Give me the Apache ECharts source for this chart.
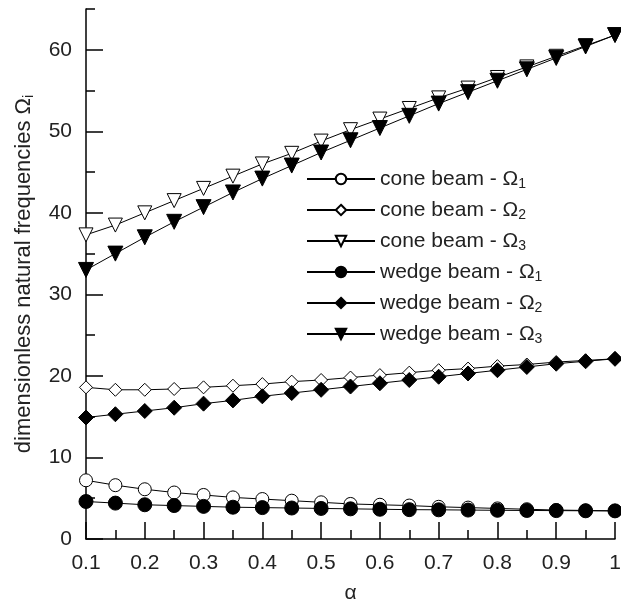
<!DOCTYPE html>
<html>
<head>
<meta charset="utf-8">
<script src="https://cdn.jsdelivr.net/npm/echarts@6/dist/echarts.min.js"></script>
<style>
  html, body { margin: 0; padding: 0; background: #fff; }
  #main { width: 621px; height: 603px; }
</style>
</head>
<body>
<div id="main"></div>
<script>
// alpha values
const alpha = [0.1, 0.15, 0.2, 0.25, 0.3, 0.35, 0.4, 0.45, 0.5, 0.55, 0.6, 0.65, 0.7, 0.75, 0.8, 0.85, 0.9, 0.95, 1.0];

const coneO1 = [7.2, 6.6, 6.1, 5.7, 5.4, 5.1, 4.9, 4.7, 4.5, 4.3, 4.2, 4.1, 3.95, 3.85, 3.75, 3.65, 3.55, 3.5, 3.45];
const coneO2 = [18.6, 18.3, 18.3, 18.4, 18.6, 18.8, 19.0, 19.3, 19.5, 19.8, 20.1, 20.4, 20.7, 20.9, 21.2, 21.4, 21.7, 21.9, 22.1];
const coneO3 = [37.3, 38.5, 40.0, 41.5, 43.0, 44.5, 46.0, 47.3, 48.8, 50.2, 51.5, 52.8, 54.1, 55.3, 56.6, 57.9, 59.2, 60.5, 61.8];
const wedgeO1 = [4.6, 4.4, 4.2, 4.1, 4.0, 3.9, 3.85, 3.8, 3.75, 3.7, 3.65, 3.6, 3.58, 3.55, 3.52, 3.5, 3.48, 3.46, 3.45];
const wedgeO2 = [14.9, 15.3, 15.7, 16.1, 16.6, 17.0, 17.5, 17.9, 18.3, 18.7, 19.1, 19.5, 19.9, 20.3, 20.7, 21.1, 21.5, 21.8, 22.1];
const wedgeO3 = [33.0, 35.0, 37.0, 38.9, 40.7, 42.5, 44.2, 45.8, 47.4, 48.9, 50.4, 51.9, 53.4, 54.8, 56.2, 57.6, 59.0, 60.4, 61.8];

// y tick labels (major ticks)
const yMajor = [0, 10, 20, 30, 40, 50, 60];

const diamond = 'path://M0,-1L1,0L0,1L-1,0Z';
const font = '"Liberation Sans", Arial, sans-serif';
const txt = '#222';

function pairs(ys) {
  return alpha.map((a, i) => [a, ys[i]]);
}

function mkSeries(name, ys, symbol, size, filled, rotate) {
  return {
    name: name,
    type: 'line',
    yAxisIndex: 0,
    data: pairs(ys),
    symbol: symbol,
    symbolSize: size,
    symbolRotate: rotate || 0,
    showAllSymbol: true,
    lineStyle: { color: '#000', width: 1 },
    itemStyle: { color: filled ? '#000' : '#fff', borderColor: '#000', borderWidth: 1 },
    emphasis: { disabled: true },
    z: filled ? 3 : 2
  };
}

const series = [
  mkSeries('cone beam - Ω1', coneO1, 'circle', 13, false),
  mkSeries('cone beam - Ω2', coneO2, diamond, 13, false),
  mkSeries('cone beam - Ω3', coneO3, 'triangle', 14, false, 180),
  mkSeries('wedge beam - Ω1', wedgeO1, 'circle', 14, true),
  mkSeries('wedge beam - Ω2', wedgeO2, diamond, 15, true),
  mkSeries('wedge beam - Ω3', wedgeO3, 'triangle', 15, true, 180)
];

const chart = echarts.init(document.getElementById('main'));
chart.setOption({
  animation: false,
  backgroundColor: '#fff',
  grid: { left: 86, right: 6, top: 9, bottom: 64, outerBoundsMode: 'none' },
  legend: {
    orient: 'vertical',
    left: 306,
    top: 167,
    padding: 0,
    itemWidth: 68,
    itemHeight: 13,
    itemGap: 7,
    textStyle: {
      fontFamily: font, fontSize: 21, color: txt,
      rich: {
        a: { fontFamily: font, fontSize: 21, lineHeight: 24, color: txt },
        s: { fontFamily: font, fontSize: 14, lineHeight: 14, color: txt, verticalAlign: 'bottom', padding: [10, 0, 0, 0] }
      }
    },
    formatter: function (name) {
      return '{a|' + name.slice(0, -1) + '}{s|' + name.slice(-1) + '}';
    }
  },
  xAxis: {
    type: 'value',
    min: 0.1,
    max: 1,
    interval: 0.1,
    name: 'α',
    nameLocation: 'middle',
    nameGap: 44,
    nameTextStyle: { fontFamily: font, fontSize: 21, color: txt },
    axisLine: { show: true, lineStyle: { color: '#000', width: 1.5 } },
    axisTick: { show: true, inside: true, length: 17, lineStyle: { color: '#000', width: 1.5 } },
    minorTick: { show: true, splitNumber: 2, length: 9, lineStyle: { color: '#000', width: 1.5 } },
    splitLine: { show: false },
    minorSplitLine: { show: false },
    axisLabel: {
      margin: 14,
      fontFamily: font, fontSize: 21, color: txt,
      formatter: function (v) {
        const r = Math.round(v * 10) / 10;
        return r === 1 ? '1' : r.toFixed(1);
      }
    }
  },
  yAxis: [
    {
      // minor ticks every 5 and the axis line
      type: 'value',
      position: 'left',
      min: 0,
      max: 65,
      interval: 5,
      axisLine: { show: true, lineStyle: { color: '#000', width: 1.5 } },
      axisTick: { show: true, inside: true, length: 9, lineStyle: { color: '#000', width: 1.5 } },
      axisLabel: { show: false },
      splitLine: { show: false }
    },
    {
      // major ticks, labels and name
      type: 'value',
      position: 'left',
      min: 0,
      max: 65,
      interval: 10,
      name: 'dimensionless natural frequencies Ω{s|i}',
      nameLocation: 'middle',
      nameGap: 50,
      nameTextStyle: {
        fontFamily: font, fontSize: 22, color: txt,
        rich: { s: { fontFamily: font, fontSize: 14, color: txt, verticalAlign: 'bottom', padding: [10, 0, 0, 0] } }
      },
      axisLine: { show: false },
      axisTick: { show: true, inside: true, length: 17, customValues: yMajor, lineStyle: { color: '#000', width: 1.5 } },
      axisLabel: {
        margin: 14,
        customValues: yMajor,
        fontFamily: font, fontSize: 21, color: txt
      },
      splitLine: { show: false }
    }
  ],
  series: series
});
</script>
</body>
</html>
